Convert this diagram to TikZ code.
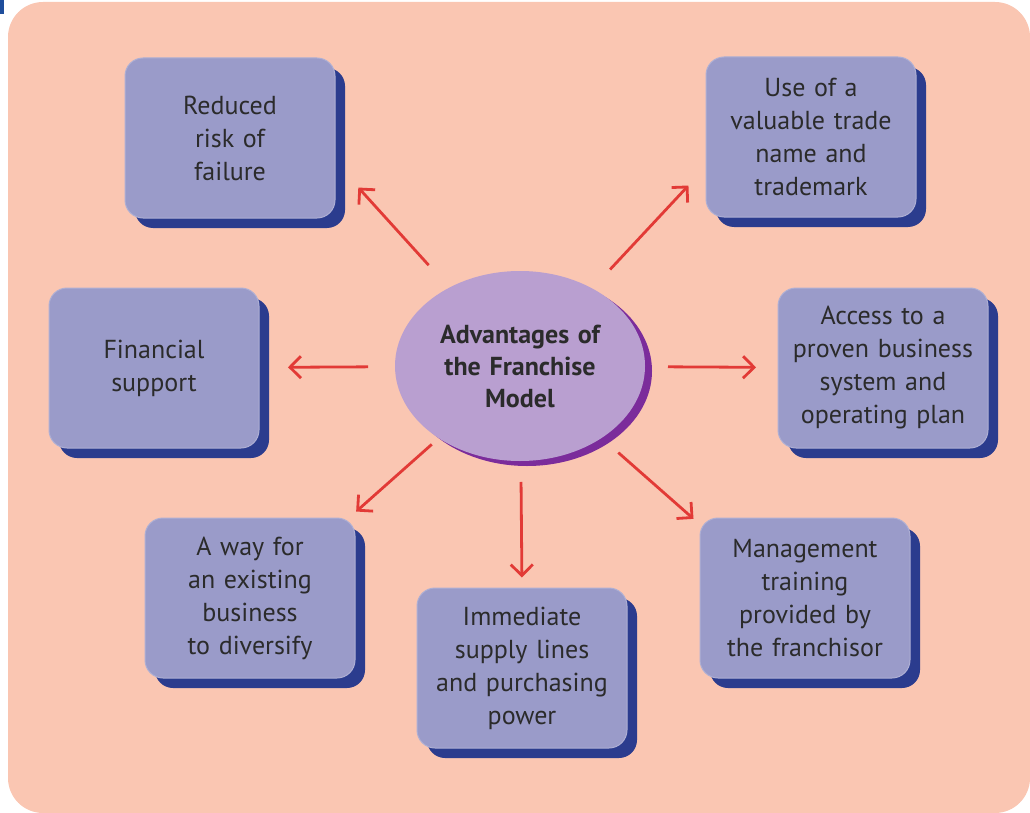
\documentclass[tikz,border=0pt]{standalone}
\usepackage{fontspec}
\setmainfont{PT Sans}
\usetikzlibrary{arrows.meta,shadows,shapes.geometric}

\definecolor{peach}{HTML}{FAC6B2}
\definecolor{boxfill}{HTML}{9A9BC9}
\definecolor{boxshade}{HTML}{2B3C8E}
\definecolor{hubfill}{HTML}{B99FD0}
\definecolor{hubshade}{HTML}{7B2C9B}
\definecolor{arrowred}{HTML}{E23A36}
\definecolor{txt}{HTML}{2B2B2B}
\definecolor{cornerblue}{HTML}{1F4E9C}

\tikzset{
  box/.style={rounded corners=18pt, fill=boxfill, draw=boxfill!80!white, line width=1pt,
    minimum width=210pt, minimum height=160pt, text width=200pt, align=center,
    font=\fontsize{26}{33}\selectfont, text=txt,
    drop shadow={shadow xshift=10pt, shadow yshift=-10pt, fill=boxshade, opacity=1}},
  hub/.style={ellipse, fill=hubfill, minimum width=250pt, minimum height=190pt,
    inner sep=0pt, text width=170pt, align=center,
    font=\fontsize{26}{32}\selectfont\bfseries, text=txt,
    drop shadow={shadow xshift=7pt, shadow yshift=-5pt, fill=hubshade, opacity=1}},
  arr/.style={draw=arrowred, line width=2.8pt, -{Straight Barb[length=11pt,width=22pt]}}
}

\begin{document}
\begin{tikzpicture}[x=1pt, y=-1pt]
\useasboundingbox (0,0) rectangle (1030,813);
% background
\fill[cornerblue] (0,0) rectangle (4,14);
\fill[peach, rounded corners=35pt] (8,2) rectangle (1030,813);

\path (520,366) node[hub] (hub) {Advantages of\\the Franchise\\Model};

\path (230,138) node[box] (reduced) {Reduced\\risk of\\failure};
\path (811,137) node[box] (trade) {Use of a\\valuable trade\\name and\\trademark};
\path (154,368) node[box] (finance) {Financial\\support};
\path (883,368) node[box] (access) {Access to a\\proven business\\system and\\operating plan};
\path (250,598) node[box] (diversify) {A way for\\an existing\\business\\to diversify};
\path (522,668) node[box] (supply) {Immediate\\supply lines\\and purchasing\\power};
\path (805,598) node[box] (training) {Management\\training\\provided by\\the franchisor};

% arrows out of the hub
\draw[arr, shorten <=136pt, shorten >=34pt] (hub.center) -- (reduced.-13);
\draw[arr, shorten <=132pt, shorten >=25pt] (hub.center) -- (trade.196);
\draw[arr, shorten <=152pt, shorten >=134pt] (hub.center) -- (finance.center);
\draw[arr, shorten <=148pt, shorten >=127pt] (hub.center) -- (access.center);
\draw[arr, shorten <=118pt, shorten >=9pt] (hub.center) -- (diversify.39);
\draw[arr, shorten <=116pt, shorten >=10pt] (hub.center) -- (supply.north);
\draw[arr, shorten <=131pt, shorten >=8pt] (hub.center) -- (training.145);
\end{tikzpicture}
\end{document}
